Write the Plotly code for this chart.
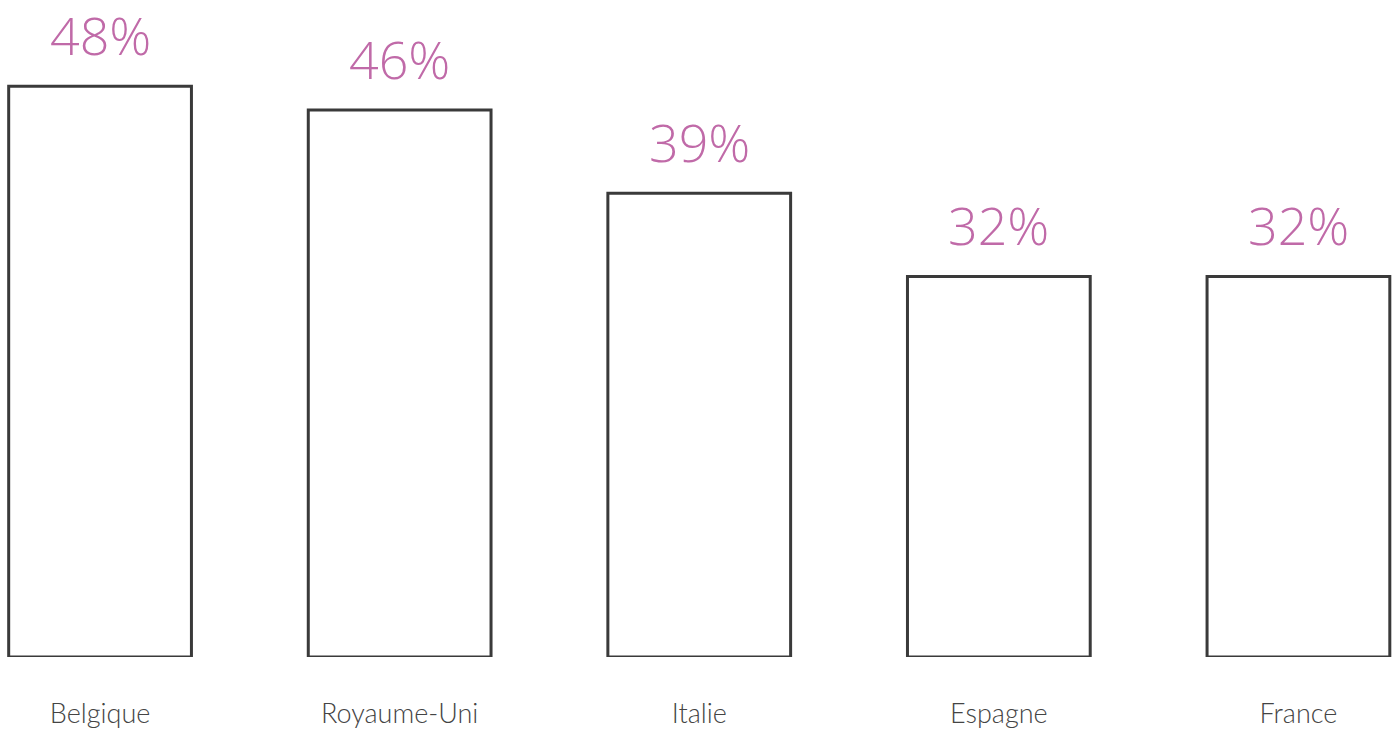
import plotly.graph_objects as go

categories = ["Belgique", "Royaume-Uni", "Italie", "Espagne", "France"]
values = [48, 46, 39, 32, 32]
labels = ["48%", "46%", "39%", "32%", "32%"]

fig = go.Figure()
fig.add_trace(go.Bar(
    x=categories,
    y=values,
    marker=dict(color="white", line=dict(color="#3a3a3a", width=3)),
    width=0.61,
    hoverinfo="skip",
))

for c, v, t in zip(categories, values, labels):
    fig.add_annotation(
        x=c, y=v, text=t, showarrow=False, yanchor="bottom", yshift=14,
        font=dict(family="Open Sans", size=52, color="#c06aa8", weight=300),
    )

fig.update_layout(
    width=1397, height=729,
    margin=dict(l=0, r=0, t=0, b=68),
    paper_bgcolor="white", plot_bgcolor="white",
    showlegend=False,
    xaxis=dict(
        range=[-0.334, 4.329], showgrid=False, zeroline=False, showline=False,
        ticks="outside", ticklen=33, tickcolor="rgba(0,0,0,0)",
        tickfont=dict(family="Lato", size=27, color="#444444", weight=300),
    ),
    yaxis=dict(range=[0, 55.25], visible=False),
)

fig.write_html(
    "out.html",
    config={"displayModeBar": False},
    post_script="document.body.style.margin='0';document.body.style.overflow='hidden';",
)
